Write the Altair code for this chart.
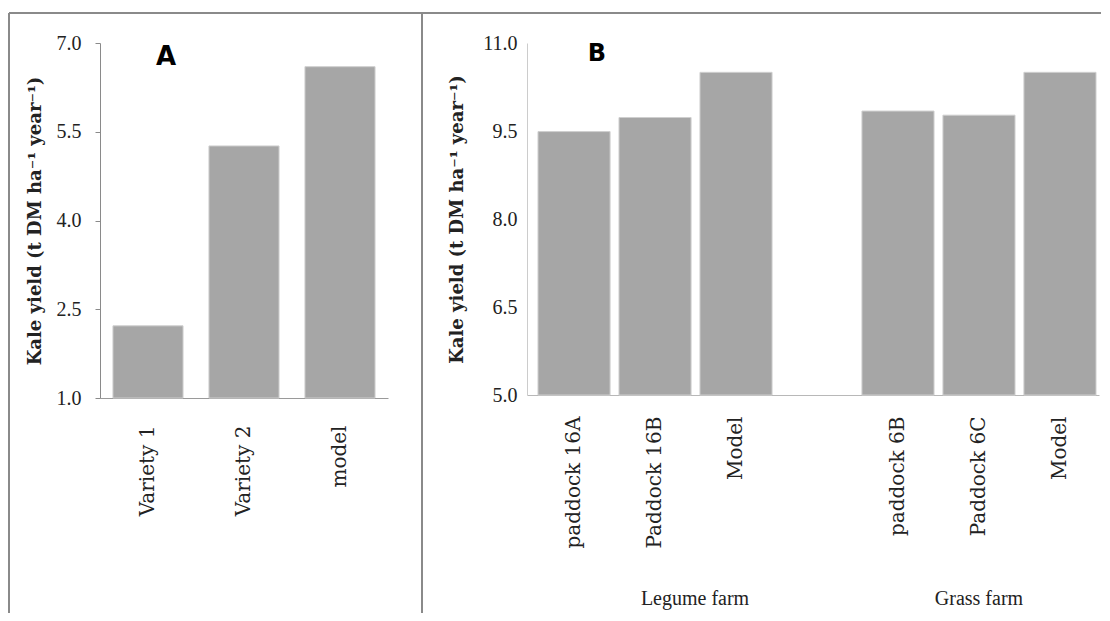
import altair as alt
import pandas as pd

# ---------------- data ----------------
# Panel A
a_categories = ["Variety 1", "Variety 2", "model"]
a_values = [2.22, 5.26, 6.60]
a_ticks = [1.0, 2.5, 4.0, 5.5, 7.0]

# Panel B
legume_categories = ["paddock 16A", "Paddock 16B", "Model"]
legume_values = [9.49, 9.73, 10.50]
grass_categories = ["paddock 6B", "Paddock 6C", "Model"]
grass_values = [9.84, 9.77, 10.50]
b_ticks = [5.0, 6.5, 8.0, 9.5, 11.0]
group_names = ["Legume farm", "Grass farm"]

y_title = "Kale yield (t DM ha⁻¹ year⁻¹)"

# ---------------- tables ----------------
dfA = pd.DataFrame({"cat": a_categories, "val": a_values})

legume_keys = [c + "|L" for c in legume_categories]
grass_keys = [c + "|G" for c in grass_categories]
b_domain = legume_keys + [" "] + grass_keys
dfB = pd.DataFrame({
    "key": legume_keys + grass_keys,
    "val": legume_values + grass_values,
})
dfG1 = pd.DataFrame({"key": [legume_keys[1]], "group": [group_names[0]]})
dfG2 = pd.DataFrame({"key": [grass_keys[1]], "group": [group_names[1]]})
one = pd.DataFrame({"k": [0]})

FRAME = "#8a8a8a"
BAR = "#a6a6a6"
TXT = "#222222"


def rule(x, x2, y, y2):
    return alt.Chart(one).mark_rule(color=FRAME, strokeWidth=2).encode(
        x=alt.value(x), x2=alt.value(x2), y=alt.value(y), y2=alt.value(y2)
    )


# ---------------- panel A ----------------
HA, WA = 355, 288
xA = alt.X(
    "cat:N", sort=a_categories,
    scale=alt.Scale(domain=a_categories, paddingInner=0.27, paddingOuter=0.135),
    axis=alt.Axis(title=None, labelAngle=-90, labelAlign="right", labelBaseline="middle",
                  labelPadding=27, ticks=False, tickSize=0, domainColor="#9a9a9a",
                  labelFont="DejaVu Serif", labelFontSize=20, labelColor=TXT),
)
yA = alt.Y(
    "val:Q",
    scale=alt.Scale(domain=[1, 7], nice=False, zero=False),
    axis=alt.Axis(values=a_ticks, format=".1f", title=y_title, grid=False,
                  tickSize=5, tickColor=FRAME, domainColor=FRAME, labelPadding=14,
                  labelFont="Liberation Serif", labelFontSize=20, labelColor=TXT,
                  titleFont="DejaVu Serif", titleFontWeight="bold", titleFontSize=18,
                  titleColor=TXT, titlePadding=12),
)
barsA = alt.Chart(dfA).mark_bar(color=BAR, stroke="#cfcfcf", strokeWidth=1).encode(
    x=xA, y=yA, y2=alt.datum(1)
)
labelA = alt.Chart(one).mark_text(
    text="A", font="DejaVu Sans", fontWeight="bold", fontSize=26, color="#000000",
    baseline="middle", align="center"
).encode(x=alt.value(66), y=alt.value(14))

chartA = alt.layer(
    rule(-91, 322, -30, -30),
    rule(-91, -91, -30, 570),
    rule(322, 322, -30, 570),
    barsA,
    labelA,
).properties(width=WA, height=HA)

# ---------------- panel B ----------------
HB, WB = 352, 572
xscaleB = alt.Scale(domain=b_domain, paddingInner=0.11, paddingOuter=0.0864, align=0.786)
xaxisB = alt.Axis(title=None, labelAngle=-90, labelAlign="right", labelBaseline="middle",
                  labelPadding=21, ticks=False, tickSize=0, domainColor="#b8b8b8",
                  labelFont="DejaVu Serif", labelFontSize=20, labelColor=TXT,
                  labelExpr="split(datum.label, '|')[0]")
xB = alt.X("key:N", sort=b_domain, scale=xscaleB, axis=xaxisB)
yB = alt.Y(
    "val:Q",
    scale=alt.Scale(domain=[5, 11], nice=False, zero=False),
    axis=alt.Axis(values=b_ticks, format=".1f", title=y_title, grid=False,
                  ticks=False, tickSize=0, domainColor="#cccccc", labelPadding=10,
                  labelFont="Liberation Serif", labelFontSize=20, labelColor=TXT,
                  titleFont="DejaVu Serif", titleFontWeight="bold", titleFontSize=18,
                  titleColor=TXT, titlePadding=16),
)
barsB = alt.Chart(dfB).mark_bar(color=BAR, stroke="#cfcfcf", strokeWidth=1).encode(
    x=xB, y=yB, y2=alt.datum(5)
)
grp1 = alt.Chart(dfG1).mark_text(
    font="Liberation Serif", fontSize=20, color=TXT, dx=40, baseline="middle"
).encode(x=alt.X("key:N", sort=b_domain, scale=xscaleB, axis=xaxisB),
         y=alt.value(556), text="group:N")
grp2 = alt.Chart(dfG2).mark_text(
    font="Liberation Serif", fontSize=20, color=TXT, baseline="middle"
).encode(x=alt.X("key:N", sort=b_domain, scale=xscaleB, axis=xaxisB),
         y=alt.value(556), text="group:N")
labelB = alt.Chart(one).mark_text(
    text="B", font="DejaVu Sans", fontWeight="bold", fontSize=24, color="#000000",
    baseline="middle", align="center"
).encode(x=alt.value(70), y=alt.value(11))

chartB = alt.layer(
    rule(-107, 574, -30, -30),
    barsB,
    grp1,
    grp2,
    labelB,
).properties(width=WB, height=HB)

chart = alt.hconcat(chartA, chartB, spacing=-4).properties(
    padding={"left": 0, "top": 4, "right": 0, "bottom": 0}
).configure_view(stroke=None)

chart.save("out.html", embed_options={"renderer": "svg", "actions": False})
